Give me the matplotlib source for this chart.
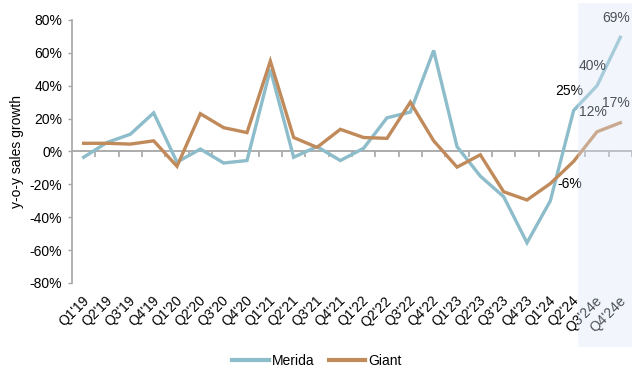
import matplotlib
matplotlib.use("Agg")
import matplotlib.pyplot as plt
import matplotlib.transforms as mtransforms
from matplotlib.patches import Rectangle
from matplotlib.ticker import FuncFormatter, FixedLocator
import numpy as np

plt.rcParams['font.family'] = ['Liberation Sans', 'DejaVu Sans']

quarters = ["Q1'19", "Q2'19", "Q3'19", "Q4'19", "Q1'20", "Q2'20", "Q3'20", "Q4'20",
            "Q1'21", "Q2'21", "Q3'21", "Q4'21", "Q1'22", "Q2'22", "Q3'22", "Q4'22",
            "Q1'23", "Q2'23", "Q3'23", "Q4'23", "Q1'24", "Q2'24", "Q3'24e", "Q4'24e"]
merida = [-3.5, 5.5, 10.5, 23.5, -6.5, 1.5, -7, -5.5, 50, -3.5, 3, -5.5,
          2, 20.5, 24, 61.5, 3, -15, -27.5, -55.5, -30, 25, 40, 69.5]
giant = [5, 5, 4.5, 6.5, -9, 23, 14.5, 11.5, 55, 8.5, 2.5, 13.5,
         8.5, 8, 30, 6.5, -9.5, -2, -24.5, -29.5, -19.5, -6, 12, 17.5]
labels = [("Merida", 21, "25%"), ("Merida", 22, "40%"), ("Merida", 23, "69%"),
          ("Giant", 21, "-6%"), ("Giant", 22, "12%"), ("Giant", 23, "17%")]

c_mer = '#8dbccb'
c_gia = '#c08a5a'
c_axis = '#a6a6a6'

W, H = 632, 376
fig = plt.figure(figsize=(W / 100, H / 100), dpi=100)
ax = fig.add_axes([72 / W, 1 - 283 / H, 560 / W, 263 / H])

x = np.arange(len(quarters))
ax.plot(x, merida, color=c_mer, lw=2.4, label='Merida', solid_joinstyle='miter')
ax.plot(x, giant, color=c_gia, lw=2.4, label='Giant', solid_joinstyle='miter')

ax.set_xlim(-0.5, len(quarters) - 0.5)
ax.set_ylim(-80, 80)
ax.set_yticks(np.arange(-80, 81, 20))
ax.yaxis.set_major_formatter(FuncFormatter(lambda v, p: '%d%%' % v))
ax.tick_params(axis='y', length=3, color=c_axis, labelsize=10, pad=4, width=1)

for s in ['top', 'right']:
    ax.spines[s].set_visible(False)
ax.spines['left'].set_color(c_axis)
ax.spines['left'].set_linewidth(1.2)
ax.spines['bottom'].set_position(('data', 0))
ax.spines['bottom'].set_color(c_axis)
ax.spines['bottom'].set_linewidth(1.3)
ax.spines['bottom'].set_zorder(1)
ax.xaxis.set_major_locator(FixedLocator(np.arange(0.5, len(quarters), 1)))
ax.xaxis.set_major_formatter(FuncFormatter(lambda v, p: ''))
ax.tick_params(axis='x', length=4, color=c_axis, width=1.2, direction='out')

trans = mtransforms.blended_transform_factory(ax.transData, ax.transAxes)
for i, q in enumerate(quarters):
    ax.text(i - 0.08, -0.04, q, transform=trans, rotation=45, ha='right', va='top',
            rotation_mode='anchor', fontsize=10)

ax.set_ylabel('y-o-y sales growth', fontsize=10, labelpad=4)

series = {"Merida": merida, "Giant": giant}
for name, i, txt in labels:
    v = series[name][i]
    dy = 14 if v > 0 else -16
    ax.annotate(txt, (i, v), xytext=(-3, dy), textcoords='offset points',
                ha='center', va='center', fontsize=10)

leg = fig.legend(loc='center', bbox_to_anchor=(317 / W, 1 - 361 / H), ncol=2, frameon=False,
                 fontsize=10, handlelength=2.6, handletextpad=0.25, columnspacing=1.0)
for l in leg.get_lines():
    l.set_linewidth(3)

shade = Rectangle((577.5 / W, 1 - 347 / H), 1 - 577.5 / W, 344 / H, transform=fig.transFigure,
                  facecolor='#dae8f9', alpha=0.35, edgecolor='none', zorder=10)
fig.add_artist(shade)

fig.savefig('out.png', dpi=100)
